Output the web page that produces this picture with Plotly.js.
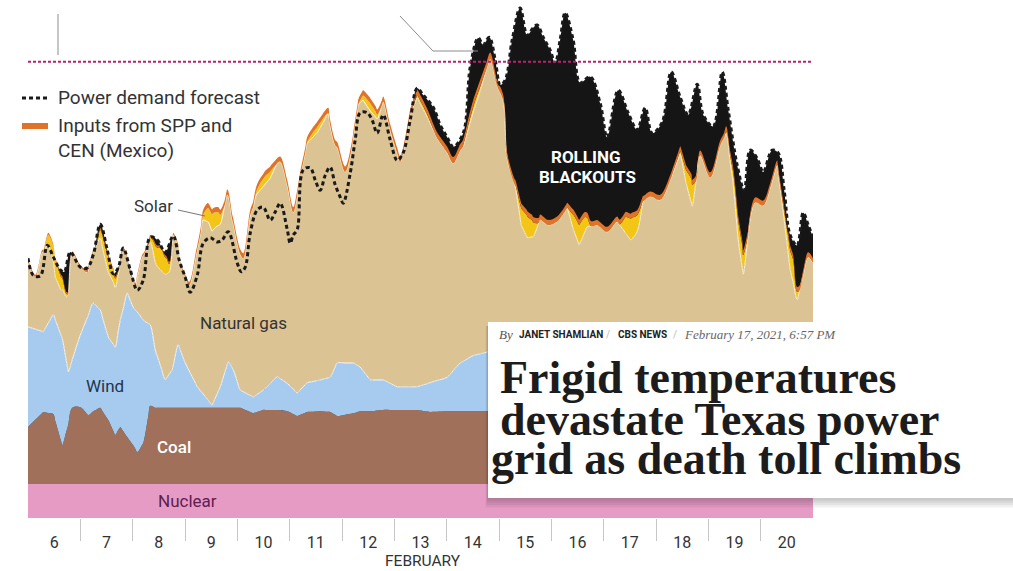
<!DOCTYPE html>
<html>
<head>
<meta charset="utf-8">
<script src="https://cdn.plot.ly/plotly-3.0.1.min.js"></script>
<style>
html,body{margin:0;padding:0;background:#fff;}
#chart{width:1013px;height:571px;}
</style>
</head>
<body>
<div id="chart"></div>
<script>
// ---- DATA (x = day of February 2021, fractional; values in GW) ----
const nuclearX = [6, 21];
const nuclearGW = [5.0, 5.0];

const lowerX = [6.000, 6.292, 6.483, 6.655, 6.770, 6.846, 6.999, 7.152, 7.247, 7.381,
  7.534, 7.667, 7.763, 7.897, 8.011, 8.088, 8.202, 8.336, 8.431, 8.623,
  8.756, 8.871, 9.004, 9.234, 9.520, 9.673, 9.826, 9.922, 10.056, 10.304,
  10.495, 10.763, 10.954, 11.144, 11.335, 11.584, 11.774, 11.908, 12.214, 12.347,
  12.538, 12.787, 13.054, 13.437, 13.685, 14.010, 14.259, 14.507, 14.775, 15.786,
  16.933, 18.080, 19.227, 21.000];
const coalGW = [8.4, 10.6, 10.3, 5.7, 8.7, 11.2, 11.3, 10.1, 10.7, 11.2,
  9.4, 7.2, 8.4, 6.9, 5.7, 4.7, 6.0, 11.5, 11.2, 11.2,
  11.2, 11.2, 11.2, 11.2, 11.2, 11.2, 11.2, 11.2, 11.2, 10.4,
  10.9, 10.9, 10.7, 10.0, 10.6, 10.7, 10.6, 10.0, 10.4, 10.7,
  10.7, 10.9, 10.9, 10.9, 10.6, 10.7, 10.7, 10.7, 10.7, 10.3,
  9.7, 10.0, 10.1, 10.1];
const windGW = [14.7, 11.8, 14.6, 15.7, 7.8, 7.1, 10.6, 14.7, 15.9, 14.4,
  12.2, 12.9, 15.7, 21.2, 20.3, 20.6, 18.1, 11.9, 8.5, 4.1,
  5.6, 9.3, 6.6, 3.1, 0.4, 3.1, 6.8, 5.6, 2.6, 2.4,
  2.9, 4.9, 4.1, 3.4, 4.3, 4.6, 5.1, 7.8, 7.4, 6.5,
  4.6, 4.4, 3.4, 3.4, 4.3, 5.0, 7.1, 8.2, 8.7, 4.0,
  4.6, 5.0, 5.4, 6.0];

const gasX = [6.000, 6.139, 6.273, 6.388, 6.521, 6.636, 6.732, 6.846, 6.999, 7.133,
  7.247, 7.381, 7.515, 7.629, 7.725, 7.820, 7.916, 8.050, 8.183, 8.336,
  8.470, 8.623, 8.699, 8.775, 8.909, 9.081, 9.215, 9.348, 9.444, 9.578,
  9.673, 9.807, 9.903, 9.998, 10.113, 10.246, 10.361, 10.476, 10.629, 10.820,
  10.954, 11.068, 11.202, 11.335, 11.527, 11.736, 11.870, 12.061, 12.195, 12.309,
  12.405, 12.538, 12.672, 12.787, 12.921, 13.112, 13.303, 13.437, 13.628, 13.819,
  14.010, 14.125, 14.316, 14.507, 14.641, 14.832, 14.966, 15.080, 15.156, 15.309,
  15.423, 15.538, 15.653, 15.786, 15.939, 16.111, 16.302, 16.417, 16.531, 16.684,
  16.875, 17.067, 17.258, 17.411, 17.525, 17.640, 17.755, 17.889, 18.080, 18.271,
  18.462, 18.576, 18.691, 18.844, 19.036, 19.227, 19.341, 19.475, 19.570, 19.666,
  19.761, 19.895, 20.048, 20.182, 20.315, 20.430, 20.564, 20.697, 20.813, 20.908,
  21.000];
const gasGW = [9.6, 7.7, 11.7, 11.6, 6.3, 6.7, 9.4, 15.6, 10.0, 6.7,
  7.5, 10.6, 9.6, 9.2, 8.2, 8.6, 4.2, 3.6, 9.1, 12.2,
  13.2, 15.5, 15.0, 19.2, 12.6, 12.6, 19.2, 25.6, 26.2, 25.1,
  23.9, 25.0, 21.8, 20.3, 19.6, 26.5, 29.4, 29.9, 30.2, 31.9,
  29.1, 26.0, 31.3, 35.2, 36.5, 38.8, 32.6, 28.1, 32.0, 38.3,
  39.8, 39.6, 38.4, 40.9, 37.3, 33.1, 40.0, 42.5, 39.2, 35.6,
  33.0, 30.5, 31.6, 35.8, 38.7, 43.4, 40.1, 38.5, 30.4, 27.1,
  22.0, 20.7, 21.4, 24.6, 23.8, 24.3, 26.3, 23.2, 20.9, 23.5,
  23.8, 22.7, 24.1, 22.4, 21.2, 22.4, 26.8, 27.4, 26.8, 29.6,
  33.4, 29.0, 25.6, 33.0, 29.7, 34.3, 36.0, 28.5, 20.4, 15.2,
  20.9, 25.7, 25.2, 27.7, 31.0, 24.1, 15.6, 11.1, 14.7, 17.3,
  16.4];

const solarX = [6.30, 6.42, 6.53, 6.64, 6.76,  7.30, 7.42, 7.53, 7.64, 7.76,
  8.30, 8.42, 8.53, 8.64, 8.76,  9.30, 9.42, 9.53, 9.64, 9.76,
  10.30, 10.42, 10.53, 10.64, 10.76,  11.30, 11.42, 11.53, 11.64, 11.76,
  12.30, 12.42, 12.53, 12.64, 12.76,  13.30, 13.42, 13.53, 13.64, 13.76,
  14.30, 14.42, 14.53, 14.64, 14.76,  15.30, 15.42, 15.53, 15.64, 15.76,
  16.30, 16.42, 16.53, 16.64, 16.76,  17.30, 17.42, 17.53, 17.64, 17.76,
  18.31, 18.46, 18.58, 18.68, 18.77,  19.30, 19.42, 19.53, 19.65, 19.76,
  20.33, 20.43, 20.53, 20.62, 20.74];
const solarGW = [0, 1.9, 2.5, 1.9, 0,  0, 1.7, 2.2, 1.7, 0,
  0, 2.4, 3.2, 2.4, 0,  0, 1.9, 2.5, 1.9, 0,
  0, 0.9, 1.2, 0.9, 0,  0, 0.6, 0.8, 0.6, 0,
  0, 0.8, 1.1, 0.8, 0,  0, 0.4, 0.5, 0.4, 0,
  0, 0.6, 0.8, 0.6, 0,  0, 2.4, 3.2, 2.4, 0,
  0, 2.2, 2.9, 2.2, 0,  0, 2.4, 3.2, 2.4, 0,
  0, 0.4, 2.0, 3.6, 0,  0, 1.0, 2.5, 3.3, 0,
  0, 1.0, 2.5, 3.3, 0];

const importsX = [6, 8.9, 9.3, 13.5, 14.7, 15.4, 21];
const importsGW = [0.3, 0.3, 0.75, 0.8, 1.0, 0.75, 0.7];

const demandX = [6.000, 6.101, 6.235, 6.369, 6.483, 6.617, 6.693, 6.808, 6.999, 7.133,
  7.247, 7.381, 7.515, 7.629, 7.725, 7.820, 7.954, 8.088, 8.202, 8.336,
  8.470, 8.623, 8.775, 8.890, 9.004, 9.100, 9.234, 9.348, 9.482, 9.616,
  9.711, 9.826, 9.998, 10.075, 10.151, 10.246, 10.380, 10.495, 10.629, 10.724,
  10.820, 10.954, 11.011, 11.068, 11.144, 11.259, 11.393, 11.488, 11.584, 11.679,
  11.774, 11.870, 11.966, 12.023, 12.157, 12.252, 12.347, 12.481, 12.577, 12.672,
  12.787, 12.921, 13.054, 13.169, 13.303, 13.437, 13.551, 13.743, 13.877, 14.010,
  14.125, 14.316, 14.450, 14.603, 14.698, 14.813, 14.927, 15.023, 15.118, 15.252,
  15.404, 15.538, 15.653, 15.729, 15.844, 15.977, 16.073, 16.168, 16.264, 16.417,
  16.550, 16.741, 16.933, 17.067, 17.277, 17.468, 17.640, 17.793, 17.927, 18.118,
  18.290, 18.462, 18.615, 18.787, 18.902, 19.093, 19.265, 19.380, 19.551, 19.685,
  19.799, 19.933, 20.048, 20.220, 20.334, 20.449, 20.564, 20.697, 20.813, 20.908,
  21.000];
const demandGW = [38.2, 35.7, 35.6, 40.1, 38.4, 36.5, 36.2, 39.1, 36.9, 36.8,
  38.7, 43.2, 39.4, 35.9, 36.8, 39.7, 36.5, 33.5, 35.0, 41.3,
  40.9, 39.1, 41.5, 37.9, 35.4, 33.2, 35.7, 40.4, 41.2, 40.6,
  40.9, 42.1, 37.5, 36.2, 36.9, 41.9, 45.3, 45.7, 43.8, 45.0,
  46.3, 42.4, 40.4, 41.6, 42.4, 51.2, 51.5, 49.7, 48.2, 50.4,
  51.6, 49.0, 47.2, 46.3, 50.7, 55.6, 59.6, 59.6, 58.5, 56.6,
  59.3, 55.6, 52.6, 53.7, 58.5, 63.2, 62.2, 60.4, 57.8, 56.0,
  54.6, 56.6, 66.3, 70.6, 69.6, 70.7, 67.4, 63.7, 64.4, 70.3,
  75.0, 71.0, 72.1, 72.5, 70.7, 68.8, 66.9, 70.3, 74.3, 70.3,
  64.0, 64.9, 61.0, 56.0, 62.9, 59.6, 57.1, 60.3, 56.6, 58.2,
  65.6, 61.9, 59.3, 63.8, 59.3, 57.6, 65.6, 60.0, 51.9, 48.2,
  54.1, 52.9, 50.9, 54.1, 53.7, 48.2, 41.6, 40.1, 44.9, 43.1,
  41.3];

const dayCenters = [6.5, 7.5, 8.5, 9.5, 10.5, 11.5, 12.5, 13.5, 14.5, 15.5, 16.5, 17.5, 18.5, 19.5, 20.5];
const dayLabels = ['6', '7', '8', '9', '10', '11', '12', '13', '14', '15', '16', '17', '18', '19', '20'];
const dayBoundaries = [7, 8, 9, 10, 11, 12, 13, 14, 15, 16, 17, 18, 19, 20];
const referenceLevelGW = 67.1;

// ---- STYLE / LAYOUT ----
const SANS = 'Roboto, "Open Sans", "DejaVu Sans", sans-serif';
const SERIF = '"Liberation Serif", "DejaVu Serif", serif';
const C = {
  nuclear: '#e69bc5', coal: '#a0705b', wind: '#a7cbee', gas: '#dcc393',
  solar: '#f3c517', imports: '#df7329', black: '#151515', text: '#333333'
};
const PL = 28, PR = 813, PT = 0, PB = 518;
const P = x => (x - PL) / (PR - PL);
const Q = y => (PB - y) / (PB - PT);

const spline = {shape: 'spline', smoothing: 1};
const traces = [
  {x: demandX, y: demandGW, type: 'scatter', mode: 'lines', fill: 'tozeroy',
   fillcolor: C.black, line: Object.assign({width: 0, color: C.black}, spline), hoverinfo: 'skip'},
  {x: nuclearX, y: nuclearGW, type: 'scatter', mode: 'lines', stackgroup: 'gen', stackgaps: 'interpolate',
   fill: 'tozeroy', fillcolor: C.nuclear, line: Object.assign({width: 0, color: C.nuclear}, spline)},
  {x: lowerX, y: coalGW, type: 'scatter', mode: 'lines', stackgroup: 'gen', fill: 'tonexty',
   fillcolor: C.coal, line: Object.assign({width: 0, color: C.coal}, spline)},
  {x: lowerX, y: windGW, type: 'scatter', mode: 'lines', stackgroup: 'gen', fill: 'tonexty',
   fillcolor: C.wind, line: Object.assign({width: 1, color: 'rgba(255,255,255,0.9)'}, spline)},
  {x: gasX, y: gasGW, type: 'scatter', mode: 'lines', stackgroup: 'gen', fill: 'tonexty',
   fillcolor: C.gas, line: Object.assign({width: 1, color: 'rgba(255,248,225,0.95)'}, spline)},
  {x: solarX, y: solarGW, type: 'scatter', mode: 'lines', stackgroup: 'gen', fill: 'tonexty',
   fillcolor: C.solar, line: Object.assign({width: 0, color: C.solar}, spline)},
  {x: importsX, y: importsGW, type: 'scatter', mode: 'lines', stackgroup: 'gen', fill: 'tonexty',
   fillcolor: C.imports, line: Object.assign({width: 0, color: C.imports}, spline)},
  {x: demandX, y: demandGW, type: 'scatter', mode: 'lines',
   line: Object.assign({width: 3, color: '#1a1a1a', dash: '4px,3px'}, spline)}
];

function txt(text, x, y, opts) {
  return Object.assign({text: text, xref: 'paper', yref: 'paper', x: P(x), y: Q(y),
    showarrow: false, xanchor: 'center', yanchor: 'middle',
    font: {family: SANS, size: 17, color: C.text}}, opts || {});
}

const shapes = [
  {type: 'line', xref: 'paper', yref: 'y', x0: 0, x1: 1, y0: referenceLevelGW, y1: referenceLevelGW,
   line: {color: '#b8226c', width: 2, dash: '3px,2px'}},
  {type: 'line', xref: 'paper', yref: 'paper', x0: P(58), x1: P(58), y0: Q(14), y1: Q(55),
   line: {color: '#8c8c8c', width: 1}},
  {type: 'path', xref: 'paper', yref: 'paper',
   path: 'M ' + P(400) + ' ' + Q(16) + ' L ' + P(433) + ' ' + Q(51) + ' L ' + P(478) + ' ' + Q(51),
   line: {color: '#8c8c8c', width: 1}},
  {type: 'path', xref: 'paper', yref: 'paper',
   path: 'M ' + P(178) + ' ' + Q(210) + ' L ' + P(205) + ' ' + Q(216),
   line: {color: '#777', width: 1}},
  {type: 'line', xref: 'paper', yref: 'paper', x0: P(22), x1: P(48), y0: Q(98), y1: Q(98),
   line: {color: '#1a1a1a', width: 3, dash: '4px,3px'}},
  {type: 'line', xref: 'paper', yref: 'paper', x0: P(22), x1: P(48), y0: Q(126), y1: Q(126),
   line: {color: C.imports, width: 6}}
];
for (let k = 1; k <= 4; k++) {
  shapes.push({type: 'rect', xref: 'paper', yref: 'paper', layer: 'above',
    x0: P(488 - k * 0.6), x1: P(1040), y0: Q(498 + k * 2.4), y1: Q(326),
    fillcolor: 'rgba(0,0,0,0.055)', line: {width: 0}});
}
shapes.push({type: 'rect', xref: 'paper', yref: 'paper', layer: 'above',
  x0: P(488), x1: P(1040), y0: Q(498), y1: Q(322), fillcolor: '#ffffff', line: {width: 0}});

const HEAD = {family: SERIF, size: 46, color: '#1c1c1c', weight: 700};
const annotations = [
  txt('Power demand forecast', 56, 98, {xanchor: 'left', font: {family: SANS, size: 19, color: C.text}}),
  txt('Inputs from SPP and', 56, 126, {xanchor: 'left', font: {family: SANS, size: 19, color: C.text}}),
  txt('CEN (Mexico)', 56, 150, {xanchor: 'left', font: {family: SANS, size: 19, color: C.text}}),
  txt('Solar', 153, 206),
  txt('Natural gas', 243, 323),
  txt('Wind', 104.5, 386, {font: {family: SANS, size: 17, color: '#1f3552'}}),
  txt('Coal', 173.5, 447, {font: {family: SANS, size: 17, color: '#ffffff', weight: 500}}),
  txt('Nuclear', 187, 501, {font: {family: SANS, size: 17, color: '#5d2050'}}),
  txt('ROLLING', 586, 157, {font: {family: SANS, size: 17, color: '#ffffff', weight: 700}}),
  txt('BLACKOUTS', 587, 177, {font: {family: SANS, size: 17, color: '#ffffff', weight: 700}}),
  txt('FEBRUARY', 423, 561, {font: {family: SANS, size: 15.5, color: C.text}}),
  // article box text
  txt('By', 497, 334, {xanchor: 'left', font: {family: SERIF, size: 13, color: '#555', style: 'italic'}}),
  txt('JANET SHAMLIAN', 517, 334, {xanchor: 'left', font: {family: SANS, size: 10, color: '#222', weight: 700}}),
  txt('/', 604, 334, {xanchor: 'left', font: {family: SANS, size: 10, color: '#bbb'}}),
  txt('CBS NEWS', 616, 334, {xanchor: 'left', font: {family: SANS, size: 10, color: '#222', weight: 700}}),
  txt('/', 671, 334, {xanchor: 'left', font: {family: SANS, size: 10, color: '#bbb'}}),
  txt('February 17, 2021, 6:57 PM', 682, 334, {xanchor: 'left', font: {family: SERIF, size: 13, color: '#666', style: 'italic'}}),
  txt('Frigid temperatures', 498, 377, {xanchor: 'left', font: HEAD}),
  txt('devastate Texas power', 498, 420, {xanchor: 'left', font: HEAD}),
  txt('grid as death toll climbs', 489, 458, {xanchor: 'left', font: HEAD})
];

const layout = {
  width: 1013, height: 571,
  margin: {l: PL, r: 1013 - PR, t: PT, b: 571 - PB, pad: 0},
  paper_bgcolor: '#ffffff', plot_bgcolor: '#ffffff',
  showlegend: false, hovermode: false,
  xaxis: {range: [6, 21], showgrid: false, zeroline: false, showline: false, fixedrange: true,
    tickmode: 'array', tickvals: dayCenters, ticktext: dayLabels,
    ticks: 'outside', ticklen: 10, tickcolor: 'rgba(0,0,0,0)',
    tickfont: {family: SANS, size: 16, color: C.text},
    minor: {tickmode: 'array', tickvals: dayBoundaries, ticks: 'outside', ticklen: 22,
      tickcolor: '#c6c6c6', tickwidth: 1, showgrid: false}},
  yaxis: {range: [0, 76.18], visible: false, fixedrange: true},
  shapes: shapes,
  annotations: annotations
};

Plotly.newPlot('chart', traces, layout, {displayModeBar: false, staticPlot: true});
</script>
</body>
</html>
